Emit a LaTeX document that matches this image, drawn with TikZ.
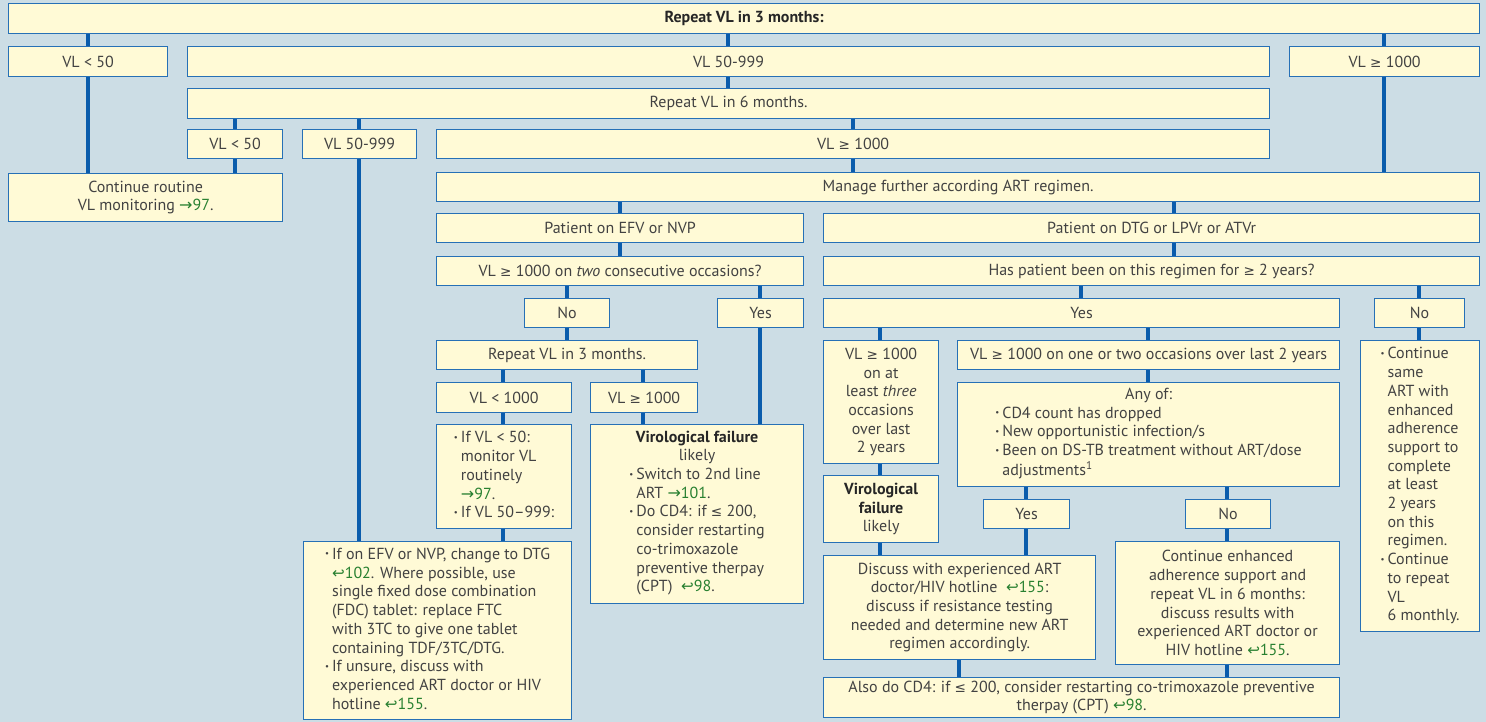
\documentclass[tikz,border=0pt]{standalone}
\usepackage{fontspec}
\setmainfont{PT Sans}
\newfontfamily\symfont{DejaVu Sans}
\usepackage{graphicx}

\definecolor{bgblue}{RGB}{204,221,229}
\definecolor{boxfill}{RGB}{255,250,214}
\definecolor{boxline}{RGB}{38,112,182}
\definecolor{connblue}{RGB}{10,92,172}
\definecolor{txt}{RGB}{66,66,66}
\definecolor{refgreen}{RGB}{40,128,48}

% symbols taken from DejaVu Sans
\newcommand\gesym{{\symfont\scalebox{0.85}{≥}}}
\newcommand\lesym{{\symfont\scalebox{0.85}{≤}}}
\newcommand\fwd[1]{\textcolor{refgreen}{{\symfont →}#1}}
\newcommand\back[1]{\textcolor{refgreen}{{\symfont\scalebox{0.95}{↩}}#1}}
\newcommand\bu{\raisebox{0.32ex}{\scalebox{0.55}{\textbullet}}}
\newcommand\boldtxt[1]{\textcolor{black!85}{\textbf{#1}}}
\newenvironment{blist}{\begin{tabular}[t]{@{}l@{\hspace{3pt}}l@{}}}{\end{tabular}}

% box from corner (x1,y1) to (x2,y2), picture units are pixels
\newcommand\bx[7][]{%
  \node[box,#1,anchor=north west,minimum width={#5-#3},minimum height={#6-#4}] (#2) at (#3,#4) {#7};}
% vertical connector from the bottom of one box to the top of another at a given x
\newcommand\vc[3]{%
  \path (#3,0) coordinate (vcx);
  \draw[conn] (#1.south -| vcx) -- (#2.north -| vcx);}

\begin{document}
\begin{tikzpicture}[x=1pt,y=-1pt,
  box/.style={draw=boxline,line width=1.2pt,fill=boxfill,inner sep=0pt,
    text=txt,align=center,font=\fontsize{16}{18.7}\selectfont},
  conn/.style={draw=connblue,line width=4.5pt}]
\fill[bgblue] (0,0) rectangle (1486,722);
\useasboundingbox (0,0) rectangle (1486,722);

% upper levels
\bx{top}{8}{3}{1479}{33}{\boldtxt{Repeat VL in 3 months:}}
\bx{ra}{8}{46}{167}{76}{VL < 50}
\bx{rb}{187}{46}{1269}{76}{VL 50-999}
\bx{rc}{1289}{46}{1479}{76}{VL \gesym\ 1000}
\bx{six}{187}{88}{1269}{118}{Repeat VL in 6 months.}
\bx{sa}{187}{129}{282}{158}{VL < 50}
\bx{sb}{302}{129}{416}{158}{VL 50-999}
\bx{sc}{436}{129}{1269}{158}{VL \gesym\ 1000}
\bx{cont}{8}{173}{282}{221}{Continue routine\\VL monitoring \fwd{97}.}
\bx{manage}{436}{172}{1479}{201}{Manage further according ART regimen.}

% EFV / NVP branch
\bx{efv}{436}{213}{803}{242}{Patient on EFV or NVP}
\bx{two}{436}{256}{803}{285}{VL \gesym\ 1000 on \textit{two} consecutive occasions?}
\bx{noL}{524}{298}{609}{327}{No}
\bx{yesL}{717}{298}{803}{327}{Yes}
\bx{rep}{436}{340}{697}{369}{Repeat VL in 3 months.}
\bx{lt}{436}{382}{571}{412}{VL < 1000}
\bx{ge}{590}{382}{697}{412}{VL \gesym\ 1000}
\bx{ifvl}{436}{424}{571}{528}{\begin{blist}
  \bu & If VL < 50:\\
      & monitor VL\\
      & routinely\\
      & \fwd{97}.\\
  \bu & If VL 50--999:
\end{blist}}
\bx{vfl}{590}{424}{803}{603}{\boldtxt{Virological failure}\\likely\\\begin{blist}
  \bu & Switch to 2nd line\\
      & ART \fwd{101}.\\
  \bu & Do CD4: if \lesym\ 200,\\
      & consider restarting\\
      & co-trimoxazole\\
      & preventive therpay\\
      & (CPT) \ \back{98}.
\end{blist}}
\bx{change}{303}{541}{571}{719}{\begin{blist}
  \bu & If on EFV or NVP, change to DTG\\
      & \back{102}. Where possible, use\\
      & single fixed dose combination\\
      & (FDC) tablet: replace FTC\\
      & with 3TC to give one tablet\\
      & containing TDF/3TC/DTG.\\
  \bu & If unsure, discuss with\\
      & experienced ART doctor or HIV\\
      & hotline \back{155}.
\end{blist}}

% DTG / LPVr / ATVr branch
\bx{dtg}{823}{213}{1479}{242}{Patient on DTG or LPVr or ATVr}
\bx{has}{823}{256}{1479}{285}{Has patient been on this regimen for \gesym\ 2 years?}
\bx{yesR}{823}{298}{1339}{327}{Yes}
\bx{noR}{1374}{298}{1464}{327}{No}
\bx{three}{823}{340}{938}{463}{VL \gesym\ 1000\\on at\\least \textit{three}\\occasions\\over last\\2 years}
\bx{onetwo}{957}{340}{1339}{369}{VL \gesym\ 1000 on one or two occasions over last 2 years}
\bx{anyof}{957}{382}{1339}{486}{Any of:\\\begin{blist}
  \bu & CD4 count has dropped\\
  \bu & New opportunistic infection/s\\
  \bu & Been on DS-TB treatment without ART/dose\\
      & adjustments\textsuperscript{1}
\end{blist}}
\bx{vfr}{823}{475}{938}{542}{\boldtxt{Virological}\\\boldtxt{failure}\\likely}
\bx{yes2}{983}{499}{1069}{528}{Yes}
\bx{no2}{1185}{499}{1270}{528}{No}
\bx{discuss}{823}{555}{1095}{659}{Discuss with experienced ART\\doctor/HIV hotline \ \back{155}:\\discuss if resistance testing\\needed and determine new ART\\regimen accordingly.}
\bx{enh}{1115}{541}{1339}{664}{Continue enhanced\\adherence support and\\repeat VL in 6 months:\\discuss results with\\experienced ART doctor or\\HIV hotline \back{155}.}
\bx{also}{823}{677}{1339}{717}{Also do CD4: if \lesym\ 200, consider restarting co-trimoxazole preventive\\therpay (CPT) \back{98}.}
\bx{same}{1360}{340}{1479}{631}{\begin{blist}
  \bu & Continue\\
      & same\\
      & ART with\\
      & enhanced\\
      & adherence\\
      & support to\\
      & complete\\
      & at least\\
      & 2 years\\
      & on this\\
      & regimen.\\
  \bu & Continue\\
      & to repeat\\
      & VL\\
      & 6 monthly.
\end{blist}}

% connectors
\vc{top}{ra}{88}
\vc{top}{rb}{728}
\vc{top}{rc}{1384}
\vc{ra}{cont}{88}
\vc{rb}{six}{728}
\vc{six}{sa}{235}
\vc{six}{sb}{359}
\vc{six}{sc}{853}
\vc{sa}{cont}{235}
\vc{sb}{change}{359}
\vc{sc}{manage}{853}
\vc{rc}{manage}{1384}
\vc{manage}{efv}{620}
\vc{manage}{dtg}{1174}
\vc{efv}{two}{620}
\vc{two}{noL}{567}
\vc{two}{yesL}{760}
\vc{noL}{rep}{567}
\vc{rep}{lt}{503}
\vc{rep}{ge}{643}
\vc{lt}{ifvl}{503}
\vc{ge}{vfl}{643}
\vc{yesL}{vfl}{760}
\vc{ifvl}{change}{503}
\vc{dtg}{has}{1174}
\vc{has}{yesR}{1081}
\vc{has}{noR}{1419}
\vc{yesR}{three}{880}
\vc{yesR}{onetwo}{1148}
\vc{onetwo}{anyof}{1148}
\vc{three}{vfr}{880}
\vc{anyof}{yes2}{1026}
\vc{anyof}{no2}{1227}
\vc{vfr}{discuss}{880}
\vc{yes2}{discuss}{1026}
\vc{no2}{enh}{1227}
\vc{discuss}{also}{959}
\vc{enh}{also}{1227}
\vc{noR}{same}{1419}
\end{tikzpicture}
\end{document}
